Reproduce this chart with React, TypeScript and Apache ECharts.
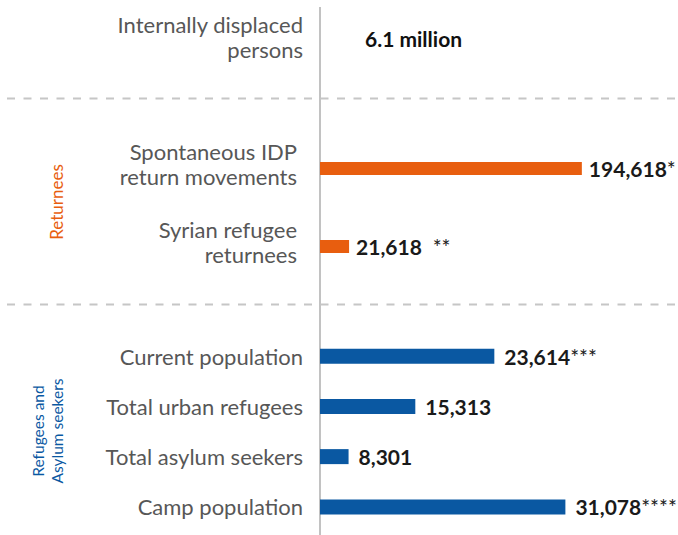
import React, { useEffect, useRef } from "react";
import * as echarts from "echarts";

const idpCategories = ["Internally displaced\npersons"];
const idpValueText = ["6.1 million"];

const returneeCategories = ["Spontaneous IDP\nreturn movements", "Syrian refugee\nreturnees"];
const returneeValues = [194618, 21618];
const returneeNotes = ["*", "  **"];

const refugeeCategories = [
  "Current population",
  "Total urban refugees",
  "Total asylum seekers",
  "Camp population",
];
const refugeeValues = [23614, 15313, 8301, 31078];
const refugeeNotes = ["***", "", "", "****"];

const groupTitles = ["Returnees", "Refugees and\nAsylum seekers"];

const ORANGE = "#E85E0F";
const BLUE = "#0A58A2";
const LABEL_GRAY = "#575757";
const FONT = "Lato, 'Open Sans', sans-serif";

const fmt = (v: number) => v.toLocaleString("en-US");

export default function App() {
  const ref = useRef<HTMLDivElement>(null);
  useEffect(() => {
    if (!ref.current) return;
    const chart = echarts.init(ref.current, undefined, { renderer: "svg" });

    const catAxis = (gridIndex: number, data: string[], margin: number, lift: number) => ({
      type: "category" as const,
      gridIndex,
      data,
      inverse: true,
      axisLine: { show: false },
      axisTick: { show: false },
      axisLabel: {
        margin,
        formatter: (v: string) =>
          v
            .split("\n")
            .map((line) => `{t|${line}}`)
            .join("\n"),
        rich: {
          t: {
            fontFamily: FONT,
            fontSize: 22,
            color: LABEL_GRAY,
            lineHeight: 25,
          },
        },
        padding: [0, 0, lift, 0],
      },
    });
    const valAxis = (gridIndex: number, min: number, max: number) => ({
      type: "value" as const,
      gridIndex,
      min,
      max,
      show: false,
      splitLine: { show: false },
    });

    const valueRich = {
      v: { fontFamily: FONT, fontSize: 21, fontWeight: "bold", color: "#1a1a1a" },
      s: { fontFamily: FONT, fontSize: 21, fontWeight: "normal", color: "#1a1a1a" },
    };

    chart.setOption({
      animation: false,
      backgroundColor: "#ffffff",
      grid: [
        { left: 320, top: 18, width: 296, height: 40 },
        { left: 320, top: 129.5, width: 296, height: 156 },
        { left: 320, top: 331, width: 297, height: 201 },
      ],
      yAxis: [
        catAxis(0, idpCategories, 17, 2),
        catAxis(1, returneeCategories, 23, 10),
        catAxis(2, refugeeCategories, 17, 0),
      ],
      xAxis: [valAxis(0, 0, 100), valAxis(1, 0, 220000), valAxis(2, 5300, 36500)],
      series: [
        {
          type: "bar",
          xAxisIndex: 0,
          yAxisIndex: 0,
          data: idpValueText.map(() => 0),
          barWidth: 1,
          itemStyle: { color: "rgba(0,0,0,0)" },
          label: {
            show: true,
            position: "right",
            distance: 45,
            formatter: (p: any) => idpValueText[p.dataIndex],
            fontFamily: FONT,
            fontSize: 21,
            fontWeight: "bold",
            color: "#111111",
          },
        },
        {
          type: "bar",
          xAxisIndex: 1,
          yAxisIndex: 1,
          data: returneeValues,
          barWidth: 13,
          itemStyle: { color: ORANGE },
          label: {
            show: true,
            position: "right",
            distance: 7,
            formatter: (p: any) => `{v|${fmt(p.value)}}{s|${returneeNotes[p.dataIndex]}}`,
            rich: valueRich,
          },
        },
        {
          type: "bar",
          xAxisIndex: 2,
          yAxisIndex: 2,
          data: refugeeValues,
          barWidth: 15,
          itemStyle: { color: BLUE },
          label: {
            show: true,
            position: "right",
            distance: 10,
            formatter: (p: any) => `{v|${fmt(p.value)}}{s|${refugeeNotes[p.dataIndex]}}`,
            rich: valueRich,
          },
        },
      ],
      graphic: [
        {
          type: "line",
          shape: { x1: 320, y1: 7, x2: 320, y2: 535 },
          style: { stroke: "#c2c2c2", lineWidth: 2 },
          z: 0,
        },
        {
          type: "line",
          shape: { x1: 7, y1: 98.5, x2: 678, y2: 98.5 },
          style: { stroke: "#c6c6c6", lineWidth: 2, lineDash: [8, 8.5] },
        },
        {
          type: "line",
          shape: { x1: 7, y1: 304.5, x2: 678, y2: 304.5 },
          style: { stroke: "#c6c6c6", lineWidth: 2, lineDash: [8, 8.5] },
        },
        {
          type: "text",
          x: 56,
          y: 202,
          rotation: Math.PI / 2,
          style: {
            text: groupTitles[0],
            fontFamily: FONT,
            fontSize: 17,
            fill: ORANGE,
            align: "center",
            verticalAlign: "middle",
          },
        },
        {
          type: "text",
          x: 47,
          y: 431,
          rotation: Math.PI / 2,
          style: {
            text: groupTitles[1],
            fontFamily: FONT,
            fontSize: 15.5,
            lineHeight: 19,
            fill: BLUE,
            align: "center",
            verticalAlign: "middle",
          },
        },
      ],
    });
    return () => chart.dispose();
  }, []);

  return (
    <div
      ref={ref}
      style={{ position: "fixed", left: 0, top: 0, width: 678, height: 535 }}
    />
  );
}
